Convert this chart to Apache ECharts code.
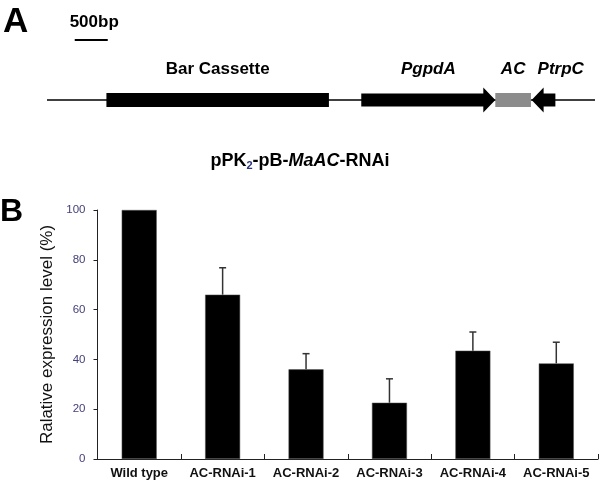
<!DOCTYPE html>
<html>
<head>
<meta charset="utf-8">
<script src="https://cdn.jsdelivr.net/npm/echarts@6/dist/echarts.min.js"></script>
<style>
    html, body { margin: 0; padding: 0; background: #fff; }
    #chart { width: 600px; height: 485px; }
</style>
</head>
<body>
<div id="chart"></div>
<script>
// Panel B data
const categories = ["Wild type", "AC-RNAi-1", "AC-RNAi-2", "AC-RNAi-3", "AC-RNAi-4", "AC-RNAi-5"];
const expression = [100, 66, 36, 22.6, 43.5, 38.4];
const errorUpper = [null, 10.8, 6.3, 9.6, 7.5, 8.5];
const yTicks = [0, 20, 40, 60, 80, 100];

// Panel A construct (positions in bp)
const featureNames = ["Bar Cassette", "PgpdA", "AC", "PtrpC"];
const featureStart = [900, 4760, 6790, 7340];
const featureEnd = [4270, 6790, 7330, 7700];
const featureStrand = [0, 1, 0, -1];
const backbone = [0, 8300];
const scaleBar = [420, 920];
const scaleLabel = "500bp";

const FONT = "'Liberation Sans', Arial, sans-serif";

const chart = echarts.init(document.getElementById("chart"));

// style per feature (not data)
const featureLook = {
    "Bar Cassette": { fill: "#000", italic: false },
    PgpdA: { fill: "#000", italic: true },
    AC: { fill: "#8c8c8c", italic: true },
    PtrpC: { fill: "#000", italic: true, align: "left", dx: 6 },
};

function renderFeature(params, api) {
    const i = api.value(2);
    const x0 = api.coord([api.value(0), 0])[0];
    const x1 = api.coord([api.value(1), 0])[0];
    const cy = params.coordSys.y + 100;
    const name = featureNames[i];
    const look = featureLook[name];
    const strand = featureStrand[i];
    const hb = 6.5, hh = 12.5, hl = 12;
    let shape;
    if (strand === 1) {
        shape = {
            type: "polygon",
            shape: { points: [[x0, cy - hb], [x1 - hl, cy - hb], [x1 - hl, cy - hh], [x1, cy], [x1 - hl, cy + hh], [x1 - hl, cy + hb], [x0, cy + hb]] },
            style: { fill: look.fill },
        };
    } else if (strand === -1) {
        shape = {
            type: "polygon",
            shape: { points: [[x1, cy - hb], [x0 + hl, cy - hb], [x0 + hl, cy - hh], [x0, cy], [x0 + hl, cy + hh], [x0 + hl, cy + hb], [x1, cy + hb]] },
            style: { fill: look.fill },
        };
    } else {
        shape = {
            type: "rect",
            shape: { x: x0, y: cy - 7, width: x1 - x0, height: 14 },
            style: { fill: look.fill },
        };
    }
    const align = look.align || "center";
    const tx = align === "left" ? x0 + (look.dx || 0) : (x0 + x1) / 2;
    return {
        type: "group",
        children: [
            shape,
            {
                type: "text",
                style: {
                    x: tx,
                    y: cy - 31,
                    text: name,
                    fill: "#000",
                    font: (look.italic ? "italic " : "") + "bold 17px " + FONT,
                    align: align,
                    verticalAlign: "middle",
                },
            },
        ],
    };
}

function renderBackbone(params, api) {
    const x0 = api.coord([api.value(0), 0])[0];
    const x1 = api.coord([api.value(1), 0])[0];
    const cy = params.coordSys.y + 100;
    return {
        type: "line",
        shape: { x1: x0, y1: cy, x2: x1, y2: cy },
        style: { stroke: "#000", lineWidth: 1.5 },
    };
}

function renderScale(params, api) {
    const x0 = api.coord([api.value(0), 0])[0];
    const x1 = api.coord([api.value(1), 0])[0];
    const cy = params.coordSys.y + 40;
    return {
        type: "group",
        children: [
            { type: "line", shape: { x1: x0, y1: cy, x2: x1, y2: cy }, style: { stroke: "#000", lineWidth: 2 } },
            {
                type: "text",
                style: {
                    x: (x0 + x1) / 2 + 3, y: cy - 18, text: scaleLabel, fill: "#000",
                    font: "bold 17px " + FONT, align: "center", verticalAlign: "middle",
                },
            },
        ],
    };
}

function renderError(params, api) {
    const err = api.value(2);
    if (err == null || isNaN(err)) return null;
    const base = api.coord([api.value(0), api.value(1)]);
    const top = api.coord([api.value(0), api.value(1) + err]);
    const cap = 3.5;
    return {
        type: "group",
        children: [
            { type: "line", shape: { x1: base[0], y1: base[1], x2: top[0], y2: top[1] }, style: { stroke: "#333", lineWidth: 1.5 } },
            { type: "line", shape: { x1: top[0] - cap, y1: top[1], x2: top[0] + cap, y2: top[1] }, style: { stroke: "#333", lineWidth: 1.5 } },
        ],
    };
}

const option = {
    animation: false,
    backgroundColor: "#fff",
    title: {
        text: "{a|pPK}{s|2}{a|-pB-}{i|MaAC}{a|-RNAi}",
        left: "center",
        top: 144,
        textStyle: {
            rich: {
                a: { fontFamily: FONT, fontWeight: "bold", fontSize: 18, color: "#000", lineHeight: 24 },
                i: { fontFamily: FONT, fontWeight: "bold", fontStyle: "italic", fontSize: 18, color: "#000", lineHeight: 24 },
                s: { fontFamily: FONT, fontWeight: "bold", fontSize: 11, color: "#2c3580", lineHeight: 24, padding: [10, 0, 0, 0] },
            },
        },
    },
    graphic: [
        { type: "text", left: 3, top: 5, style: { text: "A", font: "bold 35px " + FONT, fill: "#000" } },
        { type: "text", left: 0, top: 196, style: { text: "B", font: "bold 32px " + FONT, fill: "#000" } },
    ],
    grid: [
        { left: 97.5, right: 2, top: 210, bottom: 26 },
        { left: 47, right: 5, top: 0, height: 120 },
    ],
    xAxis: [
        {
            type: "category",
            gridIndex: 0,
            data: categories,
            axisLine: { lineStyle: { color: "#222", width: 1 } },
            axisTick: { show: true, inside: true, length: 5, lineStyle: { color: "#222" } },
            axisLabel: { color: "#111", fontFamily: FONT, fontWeight: "bold", fontSize: 13, margin: 8, interval: 0 },
        },
        { type: "value", gridIndex: 1, min: backbone[0], max: backbone[1], show: false },
    ],
    yAxis: [
        {
            type: "value",
            gridIndex: 0,
            min: yTicks[0],
            max: yTicks[yTicks.length - 1],
            interval: 20,
            name: "Ralative expression level (%)",
            nameLocation: "middle",
            nameGap: 42,
            nameTextStyle: { fontFamily: FONT, fontSize: 17, color: "#111" },
            axisLine: { show: true, lineStyle: { color: "#222", width: 1 } },
            axisTick: { show: true, length: 4, lineStyle: { color: "#222" } },
            axisLabel: { color: "#45407a", fontFamily: FONT, fontSize: 11.5, margin: 12 },
            splitLine: { show: false },
        },
        { type: "value", gridIndex: 1, min: 0, max: 1, show: false },
    ],
    series: [
        {
            type: "bar",
            xAxisIndex: 0,
            yAxisIndex: 0,
            data: expression,
            barWidth: 35,
            itemStyle: { color: "#000", borderColor: "#555", borderWidth: 0.5 },
        },
        {
            type: "custom",
            xAxisIndex: 0,
            yAxisIndex: 0,
            renderItem: renderError,
            data: categories.map((c, i) => [i, expression[i], errorUpper[i] == null ? NaN : errorUpper[i]]),
            z: 3,
        },
        {
            type: "custom",
            xAxisIndex: 1,
            yAxisIndex: 1,
            renderItem: renderBackbone,
            data: [[backbone[0], backbone[1]]],
            z: 1,
        },
        {
            type: "custom",
            xAxisIndex: 1,
            yAxisIndex: 1,
            renderItem: renderScale,
            data: [[scaleBar[0], scaleBar[1]]],
            z: 1,
        },
        {
            type: "custom",
            xAxisIndex: 1,
            yAxisIndex: 1,
            renderItem: renderFeature,
            data: featureNames.map((n, i) => [featureStart[i], featureEnd[i], i]),
            z: 2,
        },
    ],
};

chart.setOption(option);
</script>
</body>
</html>
